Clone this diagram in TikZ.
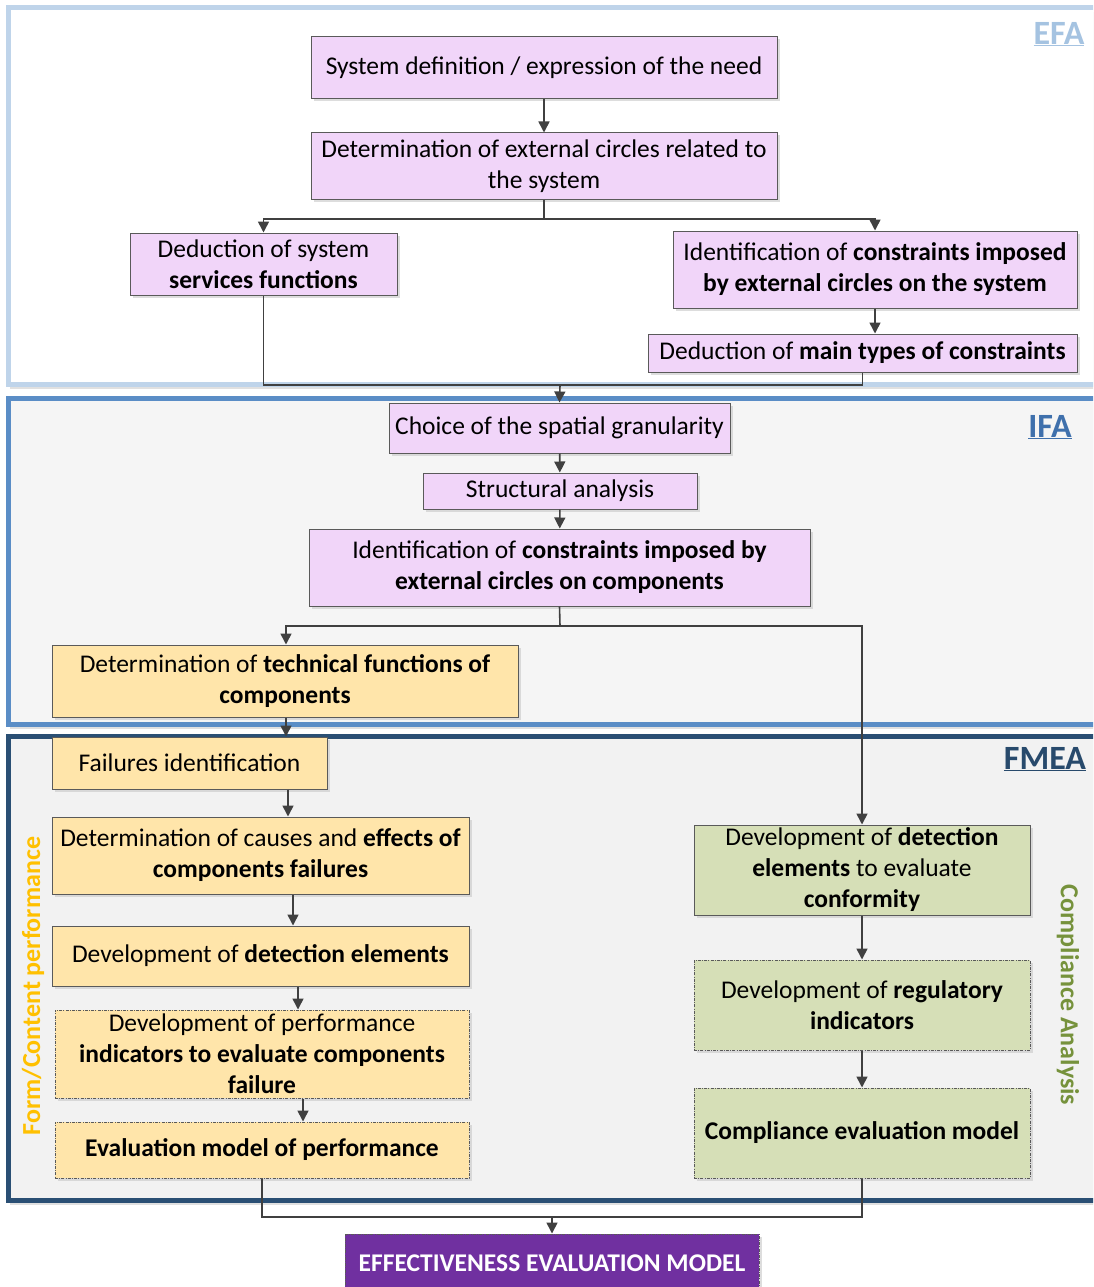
\documentclass[tikz,border=0pt]{standalone}
\usepackage{fontspec}
\setmainfont{Carlito}
\usetikzlibrary{arrows.meta,shadows}

\definecolor{pinkfill}{HTML}{F1D5F9}
\definecolor{orangefill}{HTML}{FFE5AA}
\definecolor{greenfill}{HTML}{D6DFB7}
\definecolor{purplefill}{HTML}{7030A0}
\definecolor{boxline}{HTML}{5A5A5A}
\definecolor{conline}{HTML}{404040}
\definecolor{efaline}{HTML}{BFD4EA}
\definecolor{efatext}{HTML}{A5C3E1}
\definecolor{ifaline}{HTML}{5A8DC6}
\definecolor{ifatext}{HTML}{3F70AC}
\definecolor{fmealine}{HTML}{2A4F74}
\definecolor{fmeatext}{HTML}{284A6C}
\definecolor{formtext}{HTML}{FFC000}
\definecolor{compltext}{HTML}{76923C}

\tikzset{
  basebox/.style={draw=boxline, line width=1pt, align=center, inner sep=0pt,
    font=\fontsize{25.5}{31}\selectfont,
    drop shadow={shadow xshift=2.5pt, shadow yshift=-2.5pt, fill=black!22, opacity=0.6}},
  pinkbox/.style={basebox, fill=pinkfill},
  orangebox/.style={basebox, fill=orangefill},
  greenbox/.style={basebox, fill=greenfill},
  dashbox/.style={dash pattern=on 3pt off 1.2pt on 1pt off 1.2pt},
  purplebox/.style={basebox, fill=purplefill, text=white, dashbox},
  panel/.style={line width=5pt},
  paneltitle/.style={font=\fontsize{34}{38}\selectfont\bfseries, inner sep=0pt},
  sidetitle/.style={font=\fontsize{26}{30}\selectfont\bfseries, inner sep=0pt},
  arr/.style={draw=conline, line width=1.6pt, -{Triangle[length=11pt,width=11pt]}},
  con/.style={draw=conline, line width=1.6pt},
}

\begin{document}
\begin{tikzpicture}[x=1pt,y=-1pt]
\clip (0,0) rectangle (1093,1287);
\fill[white] (0,0) rectangle (1093,1287);

% ---- analysis panels ----
\fill[black!12] (10,12) rectangle (1110,389);
\draw[panel, draw=efaline, fill=white] (8,8) rectangle (1110,384);
\node[paneltitle, text=efatext] (efa) at (1059,34) {\underline{EFA}};

\fill[black!12] (10,402) rectangle (1110,729);
\draw[panel, draw=ifaline, fill=black!4] (8,398) rectangle (1110,724);
\node[paneltitle, text=ifatext] (ifa) at (1050,427) {\underline{IFA}};

\fill[black!12] (10,740) rectangle (1110,1205);
\draw[panel, draw=fmealine, fill=black!5] (8,736) rectangle (1110,1200);
\node[paneltitle, text=fmeatext] (fmea) at (1045,759) {\underline{FMEA}};

\node[rotate=90, text=formtext, sidetitle] (formlbl) at (33,986) {Form/Content performance};
\node[rotate=-90, text=compltext, sidetitle] (compllbl) at (1068,995) {Compliance Analysis};

% ---- EFA boxes ----
\node[pinkbox, minimum width=466pt, minimum height=62pt] (sysdef) at (544,68)
  {System definition / expression of the need};
\node[pinkbox, minimum width=466pt, minimum height=66pt] (extcirc) at (544,166)
  {Determination of external circles related to\\ the system};
\node[pinkbox, minimum width=267pt, minimum height=62pt] (services) at (263.5,264)
  {Deduction of system\\ \textbf{services functions}};
\node[pinkbox, minimum width=404pt, minimum height=77pt] (constr) at (875,269.5)
  {Identification of \textbf{constraints imposed}\\ \textbf{by external circles on the system}};
\node[pinkbox, minimum width=429pt, minimum height=38pt] (maintypes) at (862.5,353)
  {Deduction of \textbf{main types of constraints}};

% ---- IFA boxes ----
\node[pinkbox, minimum width=341pt, minimum height=50pt] (granul) at (559.5,428)
  {Choice of the spatial granularity};
\node[pinkbox, minimum width=274pt, minimum height=36pt] (struct) at (560,491)
  {Structural analysis};
\node[pinkbox, minimum width=501pt, minimum height=77pt] (constrcomp) at (559.5,567.5)
  {Identification of \textbf{constraints imposed by}\\ \textbf{external circles on components}};
\node[orangebox, minimum width=466pt, minimum height=72pt] (techfun) at (285,681)
  {Determination of \textbf{technical functions of}\\ \textbf{components}};

% ---- FMEA boxes, performance column ----
\node[orangebox, minimum width=275pt, minimum height=52pt] (failid) at (189.5,763)
  {Failures identification};
\node[orangebox, minimum width=417pt, minimum height=77pt] (causes) at (260.5,855.5)
  {Determination of causes and \textbf{effects of}\\ \textbf{components failures}};
\node[orangebox, minimum width=417pt, minimum height=60pt] (detect) at (260.5,956)
  {Development of \textbf{detection elements}};
\node[orangebox, dashbox, minimum width=414pt, minimum height=88pt] (perfind) at (262,1054)
  {Development of performance\\ \textbf{indicators to evaluate components}\\ \textbf{failure}};
\node[orangebox, dashbox, minimum width=414pt, minimum height=56pt] (evalperf) at (262,1150)
  {\textbf{Evaluation model of performance}};

% ---- FMEA boxes, compliance column ----
\node[greenbox, minimum width=336pt, minimum height=90pt] (detconf) at (862,870)
  {Development of \textbf{detection}\\ \textbf{elements} to evaluate\\ \textbf{conformity}};
\node[greenbox, dashbox, minimum width=336pt, minimum height=90pt] (regind) at (862,1005)
  {Development of \textbf{regulatory}\\ \textbf{indicators}};
\node[greenbox, dashbox, minimum width=336pt, minimum height=90pt] (compmodel) at (862,1133)
  {\textbf{Compliance evaluation model}};

% ---- final result ----
\node[purplebox, minimum width=414pt, minimum height=58pt] (effect) at (552,1263)
  {\textbf{EFFECTIVENESS EVALUATION MODEL}};

% ---- connector helper coordinates ----
\coordinate (efasplit) at (544,219);
\coordinate (efajoin) at (560,385);
\coordinate (ifasplit) at (560,626);
\coordinate (outjoin) at (552,1217);
\coordinate (c286) at (286,0);
\coordinate (c288) at (288,0);
\coordinate (c293) at (293,0);
\coordinate (c298) at (298,0);
\coordinate (c303) at (303,0);

% ---- EFA connectors ----
\draw[arr] (sysdef) -- (extcirc);
\draw[con] (extcirc.south) -- (efasplit);
\draw[arr] (efasplit) -| (services.north);
\draw[arr] (efasplit) -| (constr.north);
\draw[arr] (constr) -- (constr.south |- maintypes.north);
\draw[con] (services.south) |- (efajoin);
\draw[con] (maintypes.south) |- (efajoin);
\draw[arr] (efajoin) -- (granul.north);

% ---- IFA connectors ----
\draw[arr] (granul) -- (struct);
\draw[arr] (struct) -- (constrcomp);
\draw[con] (constrcomp.south) -- (ifasplit);
\draw[arr] (ifasplit) -| (c286 |- techfun.north);
\draw[arr] (ifasplit) -| (detconf.north);

% ---- FMEA connectors ----
\draw[arr] (c286 |- techfun.south) -- (c286 |- failid.north);
\draw[arr] (c288 |- failid.south) -- (c288 |- causes.north);
\draw[arr] (c293 |- causes.south) -- (c293 |- detect.north);
\draw[arr] (c298 |- detect.south) -- (c298 |- perfind.north);
\draw[arr] (c303 |- perfind.south) -- (c303 |- evalperf.north);
\draw[arr] (detconf) -- (regind);
\draw[arr] (regind) -- (compmodel);

% ---- merge into the effectiveness model ----
\draw[con] (evalperf.south) |- (outjoin);
\draw[con] (compmodel.south) |- (outjoin);
\draw[arr] (outjoin) -- (effect.north);
\end{tikzpicture}
\end{document}
